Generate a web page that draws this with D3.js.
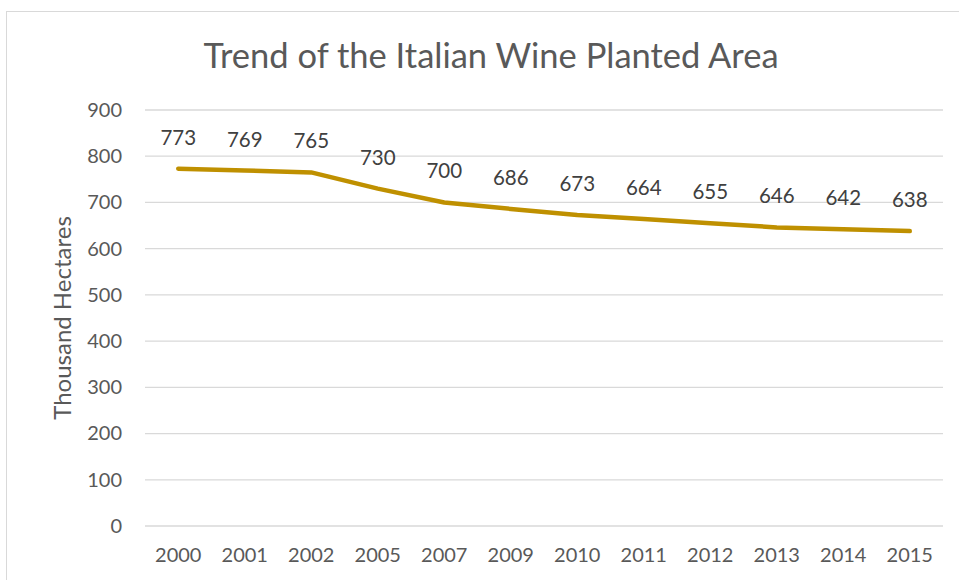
<!DOCTYPE html>
<html><head><meta charset="utf-8">
<script src="https://cdn.jsdelivr.net/npm/d3@7"></script>
<style>body{margin:0;background:#fff;} svg{display:block;}</style>
</head><body>
<svg id="c" width="959" height="580"></svg>
<script>
const categories = ["2000","2001","2002","2005","2007","2009","2010","2011","2012","2013","2014","2015"];
const values = [773,769,765,730,700,686,673,664,655,646,642,638];
const yTicks = [0,100,200,300,400,500,600,700,800,900];
const title = "Trend of the Italian Wine Planted Area";
const yTitle = "Thousand Hectares";

(function(){
const svg = d3.select("#c");
const font = "Lato, 'Open Sans', sans-serif";
svg.append("rect").attr("x",6.5).attr("y",11.5).attr("width",960).attr("height",600)
  .attr("fill","#fff").attr("stroke","#d9d9d9").attr("stroke-width",1);

const pL=145, pR=943, pT=110, pB=526;
const x = d3.scaleBand().domain(categories).range([pL,pR]);
const y = d3.scaleLinear().domain([0,900]).range([pB,pT]);

svg.append("g").selectAll("line").data(yTicks).join("line")
  .attr("x1",pL).attr("x2",pR).attr("y1",d=>y(d)).attr("y2",d=>y(d))
  .attr("stroke","#d9d9d9").attr("stroke-width",1.3);

const yAxis = d3.axisLeft(y).tickValues(yTicks).tickSize(0).tickPadding(0);
const gy = svg.append("g").attr("transform",`translate(${pL-23},0)`).call(yAxis);
gy.select(".domain").remove();
gy.selectAll("text").attr("fill","#595959").style("font-family",font).style("font-size","20px");

const xAxis = d3.axisBottom(x).tickSize(0).tickPadding(0);
const gx = svg.append("g").attr("transform",`translate(0,${pB+22})`).call(xAxis);
gx.select(".domain").remove();
gx.selectAll("text").attr("fill","#595959").style("font-family",font).style("font-size","20px");

const line = d3.line().x((d,i)=>x(categories[i])+x.bandwidth()/2).y(d=>y(d));
svg.append("path").datum(values).attr("d",line).attr("fill","none")
  .attr("stroke","#BF9000").attr("stroke-width",4.5).attr("stroke-linecap","round").attr("stroke-linejoin","round");

svg.append("g").selectAll("text").data(values).join("text")
  .attr("x",(d,i)=>x(categories[i])+x.bandwidth()/2).attr("y",d=>y(d)-24)
  .attr("text-anchor","middle").attr("fill","#404040")
  .style("font-family",font).style("font-size","20.5px").text(d=>d);

svg.append("text").attr("x",491).attr("y",68).attr("text-anchor","middle")
  .attr("fill","#595959").style("font-family",font).style("font-size","34.5px").text(title);

svg.append("text").attr("transform",`translate(71,318) rotate(-90)`).attr("text-anchor","middle")
  .attr("fill","#595959").style("font-family",font).style("font-size","24px").text(yTitle);
})();
</script>
</body></html>
